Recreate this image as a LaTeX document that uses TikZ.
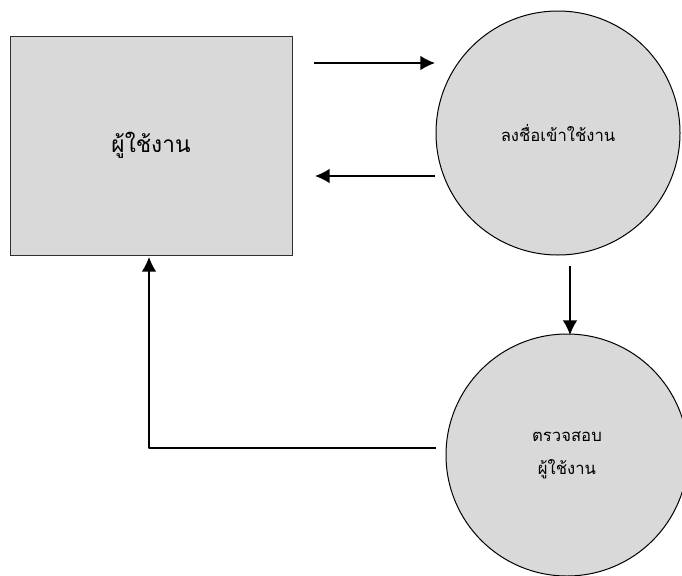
\documentclass[tikz,border=0pt]{standalone}
\usepackage{fontspec}
\newfontfamily\thaifont[Script=Thai]{Loma}
\usetikzlibrary{arrows.meta}
\definecolor{shapefill}{HTML}{D9D9D9}
\definecolor{shapeline}{HTML}{303030}
\tikzset{
  x=0.75pt,y=-0.75pt,
  entitybox/.style={draw=shapeline,line width=0.75pt,fill=shapefill,minimum width=211.5pt,minimum height=164.25pt,inner sep=0pt,font=\thaifont\fontsize{17}{20}\selectfont},
  procball/.style={circle,draw=black,line width=0.75pt,fill=shapefill,inner sep=0pt,font=\thaifont\fontsize{12.5}{25}\selectfont,align=center},
  flow/.style={draw=black,line width=1.1pt,-{Latex[length=11pt,width=11pt]}},
}
\begin{document}
\begin{tikzpicture}
\useasboundingbox (0,0) rectangle (682,575);
\clip (0,0) rectangle (682,575);
\node[entitybox] (user) at (151,145.5) {ผู้ใช้งาน};
\node[procball,minimum size=183pt] (login) at (558,133) {ลงชื่อเข้าใช้งาน};
\node[procball,minimum size=181.5pt] (check) at (567,455) {ตรวจสอบ\\ผู้ใช้งาน};
\coordinate (a1s) at (314,63);
\coordinate (a1e) at (435,63);
\coordinate (a2s) at (435,176);
\coordinate (a2e) at (315,176);
\coordinate (a3s) at (570,266);
\coordinate (a3e) at (570,335);
\coordinate (a4s) at (436,448);
\coordinate (a4m) at (149,448);
\coordinate (a4e) at (149,257);
\draw[flow] (a1s) -- (a1e);
\draw[flow] (a2s) -- (a2e);
\draw[flow] (a3s) -- (a3e);
\draw[flow,line join=round] (a4s) -- (a4m) -- (a4e);
\end{tikzpicture}
\end{document}
